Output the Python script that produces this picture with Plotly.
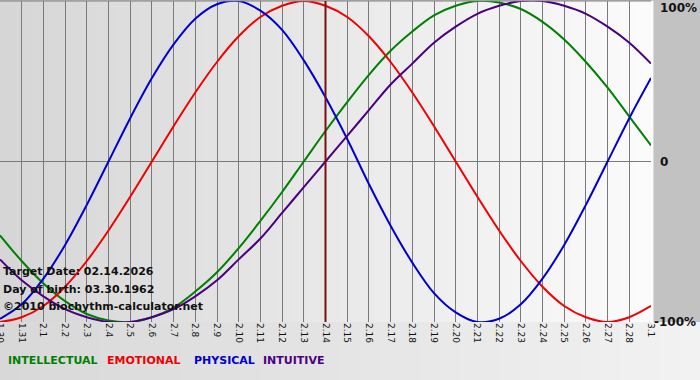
import plotly.graph_objects as go

# ---- data ----
days = ["1.30", "1.31", "2.1", "2.2", "2.3", "2.4", "2.5", "2.6", "2.7", "2.8", "2.9",
        "2.10", "2.11", "2.12", "2.13", "2.14", "2.15", "2.16", "2.17", "2.18", "2.19",
        "2.20", "2.21", "2.22", "2.23", "2.24", "2.25", "2.26", "2.27", "2.28", "3.1"]

intellectual = [-0.46, -0.62, -0.76, -0.87, -0.95, -0.99, -1.00, -0.97, -0.91, -0.81, -0.69,
                -0.54, -0.37, -0.19, 0.00, 0.19, 0.37, 0.54, 0.69, 0.81, 0.91,
                0.97, 1.00, 0.99, 0.95, 0.87, 0.76, 0.62, 0.46, 0.28, 0.10]

emotional = [-1.00, -0.97, -0.90, -0.78, -0.62, -0.43, -0.22, 0.00, 0.22, 0.43, 0.62,
             0.78, 0.90, 0.97, 1.00, 0.97, 0.90, 0.78, 0.62, 0.43, 0.22,
             0.00, -0.22, -0.43, -0.62, -0.78, -0.90, -0.97, -1.00, -0.97, -0.90]

physical = [-0.98, -0.89, -0.73, -0.52, -0.27, 0.00, 0.27, 0.52, 0.73, 0.89, 0.98,
            1.00, 0.94, 0.82, 0.63, 0.40, 0.14, -0.14, -0.40, -0.63, -0.82,
            -0.94, -1.00, -0.98, -0.89, -0.73, -0.52, -0.27, 0.00, 0.27, 0.52]

intuitive = [-0.61, -0.74, -0.84, -0.92, -0.97, -1.00, -1.00, -0.97, -0.92, -0.84, -0.74,
             -0.61, -0.48, -0.32, -0.16, 0.00, 0.16, 0.32, 0.48, 0.61, 0.74,
             0.84, 0.92, 0.97, 1.00, 1.00, 0.97, 0.92, 0.84, 0.74, 0.61]

target_day = "2.14"
target_text = "Target Date: 02.14.2026"
birth_text = "Day of birth: 03.30.1962"
copyright_text = "©2010 biochythm-calculator.net"
y_labels = ["100%", "0", "-100%"]
y_label_vals = [1, 0, -1]

series = [
    ("INTELLECTUAL", intellectual, "#008000"),
    ("EMOTIONAL", emotional, "#f00000"),
    ("PHYSICAL", physical, "#0000d0"),
    ("INTUITIVE", intuitive, "#4b0082"),
]

W, H = 700, 380
ML, MR, MT, MB = 0, 49, 1, 58
PW = W - ML - MR
PH = H - MT - MB

x = list(range(len(days)))
xmax = x[-1]
FONT = "DejaVu Sans"

fig = go.Figure()
for name, vals, col in series:
    fig.add_trace(go.Scatter(x=x, y=vals, mode="lines", name=name,
                             line=dict(color=col, width=2, shape="spline", smoothing=1.0),
                             showlegend=False, cliponaxis=True, hoverinfo="skip"))


def gray(a, b, t):
    g = int(round(a + (b - a) * t))
    return f"rgb({g},{g},{g})"


shapes = []
# plot-area horizontal gradient (strips, drawn below gridlines)
n_plot = 80
for i in range(n_plot):
    t = i / (n_plot - 1)
    shapes.append(dict(type="rect", xref="paper", yref="paper",
                       x0=i / n_plot, x1=(i + 1.3) / n_plot, y0=0, y1=1,
                       line=dict(width=0), fillcolor=gray(0xd6, 0xfb, t), layer="below"))
# bottom band gradient
n_bot = 35
for i in range(n_bot):
    t = i / (n_bot - 1)
    shapes.append(dict(type="rect", xref="paper", yref="paper",
                       x0=(i * W / n_bot - ML) / PW,
                       x1=((i + 1) * W / n_bot - ML + 1) / PW,
                       y0=-MB / PH, y1=0, line=dict(width=0),
                       fillcolor=gray(0xd8, 0xf2, t), layer="below"))
# top border
shapes.append(dict(type="line", xref="paper", yref="paper", x0=0, x1=1, y0=1, y1=1,
                   line=dict(color="#808080", width=1)))
# target date line
tx = days.index(target_day)
shapes.append(dict(type="line", xref="x", yref="y", x0=tx, x1=tx, y0=-1, y1=1,
                   line=dict(color="#7a1010", width=2)))

annotations = []
bold = dict(family=FONT, size=12, color="#111111", weight="bold")
xs = [7, 7, 1]
for lab, v, sh in zip(y_labels, y_label_vals, xs):
    annotations.append(dict(text=lab, xref="paper", yref="y", x=1, y=v,
                            xanchor="left", yanchor="top" if v == 1 else "middle",
                            xshift=sh, yshift=2 if v == 1 else 0,
                            showarrow=False, font=bold))

info_font = dict(family=FONT, size=11, color="#111111", weight="bold")
for txt, ypx in [(target_text, 271), (birth_text, 289), (copyright_text, 306)]:
    annotations.append(dict(text=txt, xref="paper", yref="paper", x=0, xshift=1,
                            y=1 - (ypx - MT) / PH, xanchor="left", yanchor="middle",
                            showarrow=False, font=info_font))

leg_x = [6, 105, 192, 261]
for (name, _, col), lx in zip(series, leg_x):
    annotations.append(dict(text=name, xref="paper", yref="paper", x=0, xshift=lx,
                            y=1 - (361 - MT) / PH, xanchor="left", yanchor="middle",
                            showarrow=False,
                            font=dict(family=FONT, size=11, color=col, weight="bold")))

fig.update_layout(
    width=W, height=H,
    margin=dict(l=ML, r=MR, t=MT, b=MB, pad=0),
    paper_bgcolor="#c2c2c2",
    plot_bgcolor="#e4e4e4",
    showlegend=False,
    hovermode=False,
    shapes=shapes,
    annotations=annotations,
    xaxis=dict(range=[0, xmax], tickvals=x, ticktext=days, tickangle=90,
               ticklabeloverflow="allow",
               showgrid=True, gridcolor="#7a7a7a", gridwidth=1, zeroline=False,
               ticks="", showline=False, fixedrange=True, automargin=False,
               tickfont=dict(family=FONT, size=9, color="#111111")),
    yaxis=dict(range=[-1, 1], showgrid=False, zeroline=True, zerolinecolor="#7a7a7a",
               zerolinewidth=1, showticklabels=False, ticks="", fixedrange=True,
               automargin=False),
)

fig.write_html("out.html", config={"displayModeBar": False},
               post_script="document.body.style.margin='0';document.body.style.overflow='hidden';")
